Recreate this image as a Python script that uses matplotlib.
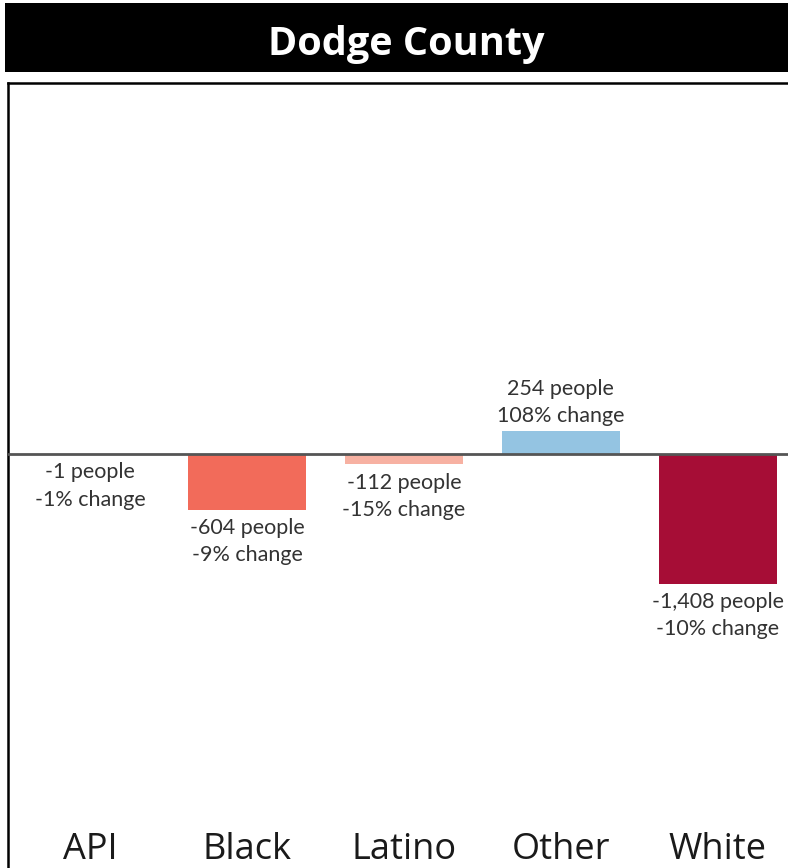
import matplotlib.pyplot as plt
from matplotlib.patches import Rectangle

groups = ['API', 'Black', 'Latino', 'Other', 'White']
people = [-1, -604, -112, 254, -1408]
pct = [-1, -9, -15, 108, -10]
colors = ['#F4A99A', '#F26B5A', '#F7B1A2', '#94C4E2', '#A60D36']

W, H = 788, 868
fig = plt.figure(figsize=(W / 100, H / 100), dpi=100)
fig.patch.set_facecolor('white')

# black title bar
fig.patches.append(Rectangle((5 / W, 1 - 72 / H), 1, 69 / H, transform=fig.transFigure,
                             facecolor='black', edgecolor='none'))
fig.text(406 / W, 1 - 44 / H, 'Dodge County', color='white', fontsize=28.5,
         fontweight='bold', family='Open Sans', ha='center', va='center')

# chart box
ax = fig.add_axes([8 / W, 0, 1 - 8 / W + 0.01, 1 - 83 / H])
scale = 0.092  # px per person
zero_px = 454 - 83
box_h = H - 83
ax.set_ylim(-(box_h - zero_px) / scale, zero_px / scale)
spacing = 157
ax.set_xlim(-(90 - 8) / spacing, -(90 - 8) / spacing + (W - 8 + 8) / spacing)
for s in ['left', 'top']:
    ax.spines[s].set_linewidth(1.8)
    ax.spines[s].set_color('black')
ax.spines['bottom'].set_visible(False)
ax.spines['right'].set_visible(False)
ax.set_xticks([])
ax.set_yticks([])

x = range(len(groups))
ax.bar(x, people, width=0.75, color=colors, zorder=2)
ax.axhline(0, color='#555555', lw=2, zorder=3)

font = 'Lato'
for i, (p, c) in enumerate(zip(people, pct)):
    label = f'{p:,} people\n{c}% change'
    if p >= 0:
        ax.annotate(label, (i, p), xytext=(0, 3), textcoords='offset points',
                    ha='center', va='bottom', fontsize=15.5, color='#333333',
                    family=font, linespacing=1.45)
    else:
        ax.annotate(label, (i, p), xytext=(0, -6), textcoords='offset points',
                    ha='center', va='top', fontsize=15.5, color='#333333',
                    family=font, linespacing=1.45)
    ax.text(i, -(850 - 454) / scale, groups[i], ha='center', va='center',
            fontsize=26, color='#1a1a1a', family='Open Sans')

fig.savefig('out.png', dpi=100)
